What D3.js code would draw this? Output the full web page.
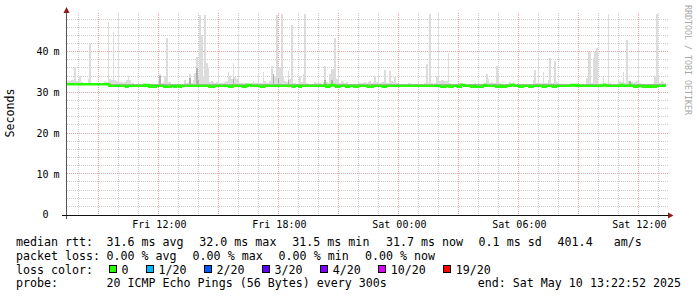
<!DOCTYPE html>
<html><head><meta charset="utf-8">
<script src="https://cdn.jsdelivr.net/npm/d3@7"></script>
<style>
html,body{margin:0;padding:0;background:#fff;}
svg{display:block;}
text{font-family:"DejaVu Sans Mono",monospace;white-space:pre;}
</style></head><body>
<svg id="chart" width="697" height="297"></svg>
<script>
// ---------- data ----------
const stepSeconds = 300;
const endTime = new Date(2025, 4, 10, 13, 22, 52);
const endLabel = "end: Sat May 10 13:22:52 2025";

// median rtt (ms), one value per 5-minute step, 12 per row (= 1 hour)
const median = [
32.0,32.0,32.0,32.0,32.0,32.0,32.0,32.0,32.0,32.0,32.0,32.0,
32.0,32.0,32.0,32.0,32.0,32.0,32.0,32.0,32.0,32.0,32.0,32.0,
32.0,32.0,31.6,31.6,31.6,31.6,31.6,31.6,31.6,31.6,31.6,31.6,
31.4,31.6,31.6,31.6,31.6,31.6,31.6,31.6,31.6,31.6,31.6,31.8,
31.6,31.8,31.4,31.4,31.6,31.4,31.6,31.6,31.6,31.6,31.6,31.4,
31.4,31.4,31.4,31.6,31.6,31.4,31.6,31.6,31.4,31.6,31.6,31.6,
31.6,31.6,31.6,31.6,31.6,31.6,31.6,31.6,31.6,31.6,31.6,31.6,
31.6,31.6,31.4,31.4,31.4,31.6,31.6,31.6,31.6,31.6,31.6,31.6,
31.6,31.6,31.4,31.4,31.6,31.6,31.6,31.6,31.6,31.6,31.4,31.4,
31.6,31.8,31.8,31.6,31.6,31.6,31.6,31.6,31.6,31.4,31.4,31.6,
31.6,31.6,31.6,31.6,31.6,31.6,31.6,31.6,31.6,31.6,31.6,31.6,
31.6,31.6,31.6,31.6,31.4,31.6,31.6,31.6,31.4,31.6,31.6,31.6,
31.6,31.6,31.6,31.6,31.6,31.6,31.6,31.6,31.6,31.6,31.6,31.8,
31.4,31.4,31.6,31.8,31.8,31.6,31.4,31.4,31.6,31.6,31.6,31.6,
31.4,31.4,31.6,31.6,31.6,31.4,31.4,31.6,31.6,31.6,31.6,31.6,
31.6,31.4,31.4,31.4,31.6,31.6,31.6,31.6,31.6,31.6,31.4,31.4,
31.6,31.6,31.6,31.6,31.6,31.6,31.6,31.6,31.6,31.6,31.6,31.6,
31.6,31.6,31.6,31.6,31.6,31.6,31.6,31.6,31.6,31.6,31.6,31.6,
31.6,31.6,31.6,31.6,31.6,31.6,31.6,31.6,31.6,31.4,31.4,31.4,
31.6,31.6,31.4,31.4,31.6,31.6,31.6,31.4,31.4,31.8,31.8,31.6,
31.6,31.6,31.6,31.4,31.4,31.6,31.4,31.4,31.4,31.4,31.6,31.8,
31.6,31.6,31.6,31.6,31.6,31.6,31.4,31.4,31.4,31.6,31.4,31.4,
31.6,31.6,31.6,31.8,31.8,31.6,31.6,31.6,31.4,31.4,31.6,31.6,
31.6,31.6,31.4,31.4,31.6,31.6,31.6,31.6,31.6,31.6,31.4,31.4,
31.6,31.6,31.6,31.6,31.4,31.4,31.6,31.6,31.6,31.6,31.6,31.6,
31.6,31.6,31.6,31.8,31.8,31.6,31.8,31.6,31.6,31.6,31.6,31.6,
31.6,31.6,31.6,31.6,31.6,31.6,31.6,31.6,31.6,31.6,31.8,31.8,
31.6,31.6,31.6,31.6,31.6,31.6,31.6,31.6,31.6,31.8,31.6,31.6,
31.6,31.6,31.8,31.6,31.6,31.4,31.4,31.6,31.6,31.6,31.4,31.4,
31.6,31.4,31.4,31.6,31.4,31.4,31.6,31.6,31.6,31.6,31.6,31.7
];

// highest ping of each step (ms): top of the light smoke
const smokeMax = [
32.8,33.0,32.8,33.0,33.0,36.3,32.8,33.0,34.0,32.6,32.2,32.2,
32.4,33.4,42.2,32.4,32.2,32.2,32.2,32.2,32.2,32.2,32.2,32.8,
32.6,47.3,33.2,33.0,44.8,33.0,32.8,49.3,32.6,32.6,32.4,32.6,
33.0,34.0,33.0,32.4,32.4,32.0,32.0,32.0,32.0,32.0,32.0,32.0,
32.0,32.0,32.0,32.0,32.0,32.0,32.0,33.4,34.5,32.2,32.6,34.0,
43.4,32.6,32.6,32.0,32.0,32.0,32.0,32.0,32.0,32.0,32.0,33.0,
32.4,32.6,34.5,32.4,33.0,34.8,38.8,34.3,49.0,44.2,34.0,49.0,
37.2,36.0,32.6,32.8,32.6,32.2,32.6,35.3,32.4,32.2,32.4,32.6,
32.8,35.0,34.0,33.3,37.2,33.8,33.3,44.7,32.4,32.2,32.2,32.2,
32.2,32.2,32.0,32.4,32.8,32.2,32.4,34.5,32.4,32.4,35.0,32.8,
32.4,32.4,32.8,36.4,34.5,34.0,49.0,36.0,36.2,49.3,34.0,32.8,
32.6,35.2,33.4,46.5,32.2,32.2,32.0,32.4,34.0,32.6,34.5,49.3,
32.2,32.0,32.0,32.0,32.0,32.6,32.2,32.8,32.2,32.0,32.2,36.4,
32.6,32.4,34.5,35.8,35.8,43.4,33.4,35.0,32.4,32.8,32.6,32.2,
32.6,32.0,32.0,32.0,32.0,32.0,32.0,32.6,32.2,32.2,32.2,32.6,
32.4,32.6,32.8,32.4,32.6,34.0,32.6,34.8,32.4,32.6,32.6,35.6,
32.2,32.4,35.3,32.8,32.6,33.8,32.4,32.0,32.0,32.0,32.0,32.0,
32.0,32.2,32.2,32.0,32.0,32.0,32.0,32.0,32.0,32.0,32.0,32.2,
37.0,32.4,49.3,32.2,32.0,32.2,34.0,49.3,32.8,33.0,33.0,32.8,
32.8,39.7,32.2,32.0,32.0,32.0,32.0,32.0,32.2,32.2,32.0,32.0,
32.0,32.0,32.0,32.0,32.0,32.2,32.0,32.0,32.0,32.0,32.0,32.2,
34.5,33.4,32.4,32.6,32.4,32.2,36.4,34.5,32.2,32.0,32.0,32.0,
32.0,32.2,32.6,32.4,32.6,32.0,32.0,32.0,32.0,32.0,32.0,32.0,
32.0,32.0,32.0,32.0,33.0,35.6,32.2,38.5,32.4,32.2,35.0,32.2,
32.2,33.0,38.5,32.2,32.4,37.7,32.6,32.0,32.0,32.0,32.0,32.0,
32.0,32.0,32.0,32.0,32.2,32.0,32.0,32.0,32.0,32.0,32.0,32.0,
33.6,40.2,40.0,32.4,38.4,39.9,40.8,32.2,32.0,32.0,33.8,32.2,
32.0,49.3,32.2,32.0,32.0,32.0,32.0,33.4,32.8,32.6,35.0,32.4,
42.9,32.8,32.8,32.6,32.2,32.6,32.8,41.2,32.2,32.0,32.0,32.0,
32.0,32.0,32.0,32.0,32.4,34.0,49.3,34.0,32.4,32.8,32.6,32.4
];

// inner (denser) smoke top per step (ms): darker band
const smokeMid = [
32.0,32.0,32.0,32.0,32.0,32.0,32.0,32.0,32.0,32.0,32.0,32.0,
32.0,32.0,32.0,32.0,32.0,32.0,32.0,32.0,32.0,32.0,32.0,32.0,
32.0,32.0,32.0,32.0,32.0,32.0,32.0,32.0,32.0,32.0,32.0,32.0,
32.0,32.0,32.0,32.0,32.0,32.0,32.0,32.0,32.0,32.0,32.0,32.0,
32.0,32.0,32.0,32.0,32.0,32.0,32.0,32.0,34.0,32.0,32.0,32.0,
32.0,32.0,32.0,32.0,32.0,32.0,32.0,32.0,32.0,32.0,32.0,32.0,
32.0,32.0,33.5,32.0,32.0,32.0,36.0,33.0,32.0,32.0,32.0,32.0,
32.0,32.0,32.0,32.0,32.0,32.0,32.0,32.0,32.0,32.0,32.0,32.0,
32.0,32.0,32.0,32.0,33.3,32.0,32.0,32.0,32.0,32.0,32.0,32.0,
32.0,32.0,32.0,32.0,32.0,32.0,32.0,32.0,32.0,32.0,32.0,32.0,
32.0,32.0,32.0,32.0,34.5,32.0,32.0,33.5,32.0,32.0,32.0,32.0,
32.0,33.0,32.0,32.0,32.0,32.0,32.0,32.0,32.0,32.0,32.0,32.0,
32.0,32.0,32.0,32.0,32.0,32.0,32.0,32.0,32.0,32.0,32.0,33.0,
32.0,32.0,32.0,33.0,32.0,32.0,32.0,32.0,32.0,32.0,32.0,32.0,
32.0,32.0,32.0,32.0,32.0,32.0,32.0,32.0,32.0,32.0,32.0,32.0,
32.0,32.0,32.0,32.0,32.0,32.0,32.0,32.0,32.0,32.0,32.0,32.0,
32.0,32.0,32.0,32.0,32.0,32.0,32.0,32.0,32.0,32.0,32.0,32.0,
32.0,32.0,32.0,32.0,32.0,32.0,32.0,32.0,32.0,32.0,32.0,32.0,
32.0,32.0,32.0,32.0,32.0,32.0,32.0,32.0,32.0,32.0,32.0,32.0,
32.0,32.0,32.0,32.0,32.0,32.0,32.0,32.0,32.0,32.0,32.0,32.0,
32.0,32.0,32.0,32.0,32.0,32.0,32.0,32.0,32.0,32.0,32.0,32.0,
32.0,32.0,32.0,32.0,32.0,32.0,32.0,32.0,32.0,32.0,32.0,32.0,
32.0,32.0,32.0,32.0,32.0,32.0,32.0,32.0,32.0,32.0,32.0,32.0,
32.0,32.0,32.0,32.0,32.0,32.0,32.0,32.0,32.0,32.0,32.0,32.0,
32.0,32.0,32.0,32.0,32.0,32.0,32.0,32.0,32.0,32.0,32.0,32.0,
32.0,32.0,32.0,32.0,32.0,32.0,32.0,32.0,32.0,32.0,32.0,32.0,
32.0,32.0,32.0,32.0,32.0,32.0,32.0,32.0,32.0,32.0,32.0,32.0,
32.0,32.0,32.0,32.0,32.0,32.0,32.0,32.0,32.0,32.0,32.0,32.0,
32.0,32.0,32.8,32.0,32.0,32.0,32.0,32.0,32.0,32.0,32.0,32.0,
32.0,32.0,32.0,32.0,32.0,32.0,32.0,32.0,32.0,32.0,32.0,32.0
];

const yMax = 49.5;
const yTicks = [0, 10, 20, 30, 40];
const yUnit = "m";
const yTitle = "Seconds";
const watermark = "RRDTOOL / TOBI OETIKER";
const lossLabels = ["0", "1/20", "2/20", "3/20", "4/20", "10/20", "19/20"];
const lossColors = ["#26ff00", "#00b8ff", "#0059ff", "#5e00ff", "#7e00ff", "#dd00ff", "#ff0000"];
const rttStats = ["31.6 ms avg", "32.0 ms max", "31.5 ms min", "31.7 ms now", "0.1 ms sd", "401.4   am/s"];
const lossStats = ["0.00 % avg", "0.00 % max", "0.00 % min", "0.00 % now"];
const probeText = "20 ICMP Echo Pings (56 Bytes) every 300s";

// ---------- drawing ----------
const svg = d3.select("#chart");
const P = {left: 66, right: 666, top: 13, bottom: 214.5};
const startTime = new Date(endTime.getTime() - median.length * stepSeconds * 1000);
const x = d3.scaleTime().domain([startTime, endTime]).range([P.left, P.right]);
const y = d3.scaleLinear().domain([0, yMax]).range([P.bottom, P.top]);
const snap = v => Math.floor(v) + 0.5;

const pts = median.map((m, i) => ({
  t: new Date(startTime.getTime() + i * stepSeconds * 1000),
  med: m, max: smokeMax[i], mid: smokeMid[i]
}));
pts.push(Object.assign({}, pts[pts.length - 1], {t: endTime}));

svg.append("rect").attr("width", 697).attr("height", 297).attr("fill", "#fff");

const minorCol = "#cfcfcf", majorCol = "#eaa3a3";
const grid = svg.append("g").attr("shape-rendering", "crispEdges");
// horizontal grid
d3.range(2, yMax, 2).forEach(v => {
  const major = v % 10 === 0;
  grid.append("line").attr("x1", P.left + 1).attr("x2", 669)
    .attr("y1", snap(y(v))).attr("y2", snap(y(v)))
    .attr("stroke", major ? majorCol : minorCol).attr("stroke-dasharray", "1,1");
});
// vertical grid
const hours = d3.timeHour.range(d3.timeHour.ceil(startTime), endTime);
hours.forEach(h => {
  const major = h.getHours() % 3 === 0;
  grid.append("line").attr("x1", snap(x(h))).attr("x2", snap(x(h)))
    .attr("y1", P.top).attr("y2", 215)
    .attr("stroke", major ? majorCol : minorCol).attr("stroke-dasharray", "1,1");
});

// smoke
const areaLight = d3.area().curve(d3.curveStepAfter)
  .x(d => x(d.t)).y0(d => y(d.med)).y1(d => y(Math.max(d.max, d.med)));
const areaDark = d3.area().curve(d3.curveStepAfter)
  .x(d => x(d.t)).y0(d => y(d.med)).y1(d => y(Math.max(d.mid, d.med)));
svg.append("path").datum(pts).attr("d", areaLight).attr("fill", "#dcdcdc").attr("shape-rendering", "crispEdges");
svg.append("path").datum(pts).attr("d", areaDark).attr("fill", "#b0b0b0").attr("shape-rendering", "crispEdges");

// median line
const line = d3.line().curve(d3.curveStepAfter).x(d => x(d.t)).y(d => y(d.med));
svg.append("path").datum(pts).attr("d", line).attr("fill", "none")
  .attr("stroke", lossColors[0]).attr("stroke-width", 2.4);

// axes
const axisG = svg.append("g").attr("shape-rendering", "crispEdges");
axisG.append("line").attr("x1", 66.5).attr("x2", 66.5).attr("y1", 11).attr("y2", 219).attr("stroke", "#555");
axisG.append("line").attr("x1", 62).attr("x2", 669).attr("y1", 215.5).attr("y2", 215.5).attr("stroke", "#111");
svg.append("path").attr("d", "M66.5,7L63.5,13L69.5,13Z").attr("fill", "#8b1a1a");
svg.append("path").attr("d", "M673.5,215.5L668,212.5L668,218.5Z").attr("fill", "#8b1a1a");

// y tick labels
yTicks.forEach(v => {
  const yy = y(v) + 3.8;
  svg.append("text").attr("x", 48.5).attr("y", yy).attr("text-anchor", "end")
    .attr("font-size", "10px").attr("fill", "#000").text(v === 0 ? "0" : String(v));
  if (v !== 0) svg.append("text").attr("x", 53.5).attr("y", yy)
    .attr("font-size", "10px").attr("fill", "#000").text(yUnit);
});

// x tick labels
const fmt = d3.timeFormat("%a %H:%M");
hours.filter(h => h.getHours() % 6 === 0).forEach(h => {
  svg.append("text").attr("x", x(h) + 1).attr("y", 228).attr("text-anchor", "middle")
    .attr("font-size", "10px").attr("fill", "#000").text(fmt(h));
});

// y title
svg.append("text").attr("transform", "translate(14.3,113) rotate(-90)")
  .attr("text-anchor", "middle").attr("font-size", "11.65px").attr("fill", "#000").text(yTitle);
// watermark
svg.append("text").attr("transform", "translate(684.8,5) rotate(90)")
  .attr("font-size", "8.3px").attr("fill", "#a8a8a8").text(watermark);

// legend
const LF = "11.65px";
const rows = [246, 259.8, 273.6, 287.4];
const lt = (xx, yy, s, anchor) => svg.append("text").attr("x", xx).attr("y", yy)
  .attr("font-size", LF).attr("fill", "#000").attr("text-anchor", anchor || "start").text(s);
lt(16, rows[0], "median rtt:");
const rttX = [106.5, 199.3, 292.3, 386, 478.6, 557.6];
rttStats.forEach((s, i) => lt(rttX[i], rows[0], s));
lt(16, rows[1], "packet loss:");
const lossX = [106.5, 192.6, 278.6, 365];
lossStats.forEach((s, i) => lt(lossX[i], rows[1], s));
lt(16, rows[2], "loss color:");
const charW = 7.01;
let cx = 108.5;
lossLabels.forEach((s, i) => {
  svg.append("rect").attr("x", cx + 0.5).attr("y", 265.5).attr("width", 7).attr("height", 7)
    .attr("fill", lossColors[i]).attr("stroke", "#000").attr("stroke-width", 1)
    .attr("shape-rendering", "crispEdges");
  lt(cx + 13, rows[2], s);
  cx += 30 + charW * s.length;
});
lt(16, rows[3], "probe:");
lt(106.5, rows[3], probeText);
lt(681, rows[3], endLabel, "end");
</script>
</body></html>
